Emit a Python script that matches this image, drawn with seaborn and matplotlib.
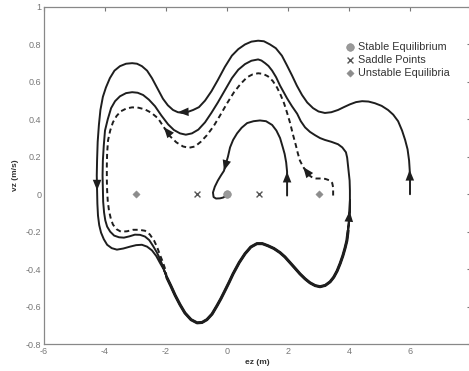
import numpy as np
import pandas as pd
import matplotlib
matplotlib.use("Agg")
import matplotlib.pyplot as plt
import seaborn as sns

# equilibria on the ez axis
stable_x = [0.0]
saddle_x = [-1.0, 1.05]
unstable_x = [-3.0, 3.03]

# trajectory starting at (6, 0): first (outer) lap
outer_x = [6.0, 6.0, 5.99, 5.97, 5.92, 5.84, 5.74, 5.61, 5.45, 5.28, 5.07, 4.85, 4.64, 4.43, 4.23, 4.03,
           3.83, 3.64, 3.42, 3.21, 3.0, 2.82, 2.63, 2.46, 2.29, 2.13, 1.96, 1.80, 1.60, 1.41, 1.21, 1.02,
           0.80, 0.59, 0.37, 0.16, -0.07, -0.30, -0.51, -0.72, -0.92, -1.11, -1.28, -1.44, -1.61, -1.77,
           -1.94, -2.10, -2.28, -2.46, -2.62, -2.79, -2.95, -3.11, -3.31, -3.51, -3.69, -3.84, -3.97,
           -4.07, -4.15, -4.20, -4.24, -4.26, -4.27, -4.26, -4.25, -4.23, -4.19, -4.13, -4.04, -3.93,
           -3.78, -3.61, -3.40, -3.18, -2.98, -2.79, -2.62, -2.46, -2.32, -2.20, -2.08]
outer_y = [0.0, 0.073, 0.13, 0.18, 0.24, 0.29, 0.34, 0.39, 0.425, 0.45, 0.472, 0.486, 0.495, 0.497, 0.492, 0.48,
           0.465, 0.45, 0.438, 0.434, 0.442, 0.46, 0.49, 0.53, 0.58, 0.635, 0.69, 0.74, 0.78, 0.80, 0.817, 0.82,
           0.815, 0.80, 0.775, 0.74, 0.68, 0.61, 0.55, 0.50, 0.465, 0.45, 0.44, 0.434, 0.438, 0.45,
           0.475, 0.51, 0.565, 0.62, 0.66, 0.684, 0.697, 0.70, 0.697, 0.684, 0.66, 0.62, 0.57,
           0.52, 0.45, 0.37, 0.28, 0.18, 0.10, 0.02, -0.05, -0.114, -0.165, -0.205, -0.24, -0.27,
           -0.288, -0.296, -0.29, -0.28, -0.272, -0.27, -0.28, -0.30, -0.33, -0.366, -0.40]

# lower arc shared by the spiralling trajectories, ending on the way up at ez = 4
bottom_x = [-1.97, -1.84, -1.70, -1.54, -1.38, -1.18, -0.98, -0.82, -0.66, -0.49, -0.33, -0.20, -0.07,
            0.07, 0.20, 0.40, 0.59, 0.78, 0.98, 1.16, 1.34, 1.54, 1.74, 1.90, 2.07, 2.23, 2.39, 2.56,
            2.72, 2.89, 3.05, 3.22, 3.38, 3.50, 3.61, 3.71, 3.80, 3.87, 3.93, 3.97, 4.00, 4.02, 4.03]
bottom_y = [-0.446, -0.49, -0.54, -0.59, -0.634, -0.67, -0.687, -0.685, -0.67, -0.64, -0.596, -0.558, -0.516,
            -0.47, -0.425, -0.365, -0.318, -0.282, -0.264, -0.264, -0.275, -0.29, -0.312, -0.335, -0.366, -0.395,
            -0.425, -0.452, -0.473, -0.488, -0.494, -0.487, -0.468, -0.443, -0.41, -0.37, -0.328, -0.288,
            -0.248, -0.195, -0.14, -0.09, -0.034]

# same trajectory, second lap (middle loop)
middle_x = [4.03, 4.02, 3.99, 3.97, 3.94, 3.90, 3.78, 3.64, 3.42, 3.21, 3.05, 2.89, 2.72, 2.56, 2.42, 2.30,
            2.13, 1.97, 1.85, 1.74, 1.61, 1.48, 1.36, 1.25, 1.13, 1.02, 0.80, 0.59, 0.37, 0.16, -0.07,
            -0.30, -0.51, -0.72, -0.94, -1.15, -1.35, -1.54, -1.74, -1.93, -2.15, -2.36, -2.56, -2.75,
            -2.93, -3.11, -3.31, -3.51, -3.67, -3.80, -3.91, -4.0, -4.04, -4.07, -4.08, -4.07, -4.06,
            -4.03, -3.99, -3.93, -3.83, -3.70, -3.54, -3.38, -3.20, -3.02, -2.85, -2.69, -2.55, -2.43,
            -2.31, -2.20, -2.08]
middle_y = [0.02, 0.073, 0.12, 0.153, 0.195, 0.224, 0.25, 0.267, 0.28, 0.29, 0.30, 0.315, 0.333, 0.357, 0.39, 0.43,
            0.47, 0.512, 0.547, 0.58, 0.625, 0.66, 0.685, 0.70, 0.714, 0.72, 0.713, 0.695, 0.665, 0.62, 0.555,
            0.49, 0.435, 0.384, 0.345, 0.325, 0.318, 0.325, 0.343, 0.373, 0.42, 0.47, 0.505, 0.53,
            0.542, 0.545, 0.54, 0.523, 0.497, 0.46, 0.40, 0.34, 0.26, 0.18, 0.10, 0.02, -0.04,
            -0.098, -0.14, -0.173, -0.20, -0.221, -0.23, -0.232, -0.225, -0.216, -0.217, -0.226, -0.245, -0.275,
            -0.308, -0.344, -0.395]

# trajectory starting near (3.5, 0), dashed
dashed_x = [3.48, 3.48, 3.45, 3.38, 3.22, 3.05, 2.92, 2.82, 2.72, 2.62, 2.50, 2.39, 2.32, 2.26, 2.16, 2.07,
            1.97, 1.87, 1.76, 1.64, 1.50, 1.34, 1.18, 1.02, 0.84, 0.66, 0.45, 0.23, 0.0, -0.23, -0.44,
            -0.66, -0.86, -1.05, -1.25, -1.44, -1.66, -1.87, -2.07, -2.26, -2.48, -2.69, -2.90, -3.11,
            -3.30, -3.48, -3.62, -3.74, -3.83, -3.90, -3.93, -3.94, -3.94, -3.93, -3.91, -3.87, -3.81,
            -3.74, -3.62, -3.48, -3.28, -3.08, -2.88, -2.69, -2.53, -2.39, -2.29, -2.20, -2.11, -2.03]
dashed_y = [-0.007, 0.036, 0.06, 0.073, 0.082, 0.084, 0.084, 0.087, 0.098, 0.116, 0.145, 0.18, 0.22, 0.26, 0.32, 0.38,
            0.435, 0.486, 0.53, 0.57, 0.605, 0.63, 0.643, 0.646, 0.64, 0.625, 0.59, 0.545, 0.485, 0.42, 0.363,
            0.315, 0.28, 0.255, 0.248, 0.255, 0.277, 0.31, 0.358, 0.405, 0.435, 0.453, 0.462, 0.464,
            0.458, 0.443, 0.418, 0.384, 0.34, 0.288, 0.22, 0.154, 0.08, 0.02, -0.035, -0.087, -0.13,
            -0.162, -0.187, -0.20, -0.198, -0.19, -0.19, -0.195, -0.215, -0.248, -0.283, -0.323, -0.36, -0.398]

# trajectory starting at (2, 0) and ending in the stable point
inner_x = [1.97, 1.97, 1.97, 1.94, 1.89, 1.83, 1.74, 1.62, 1.48, 1.28, 1.08, 0.87, 0.66, 0.48, 0.33, 0.20,
           0.10, 0.03, -0.04, -0.10, -0.20, -0.30, -0.40, -0.46, -0.44, -0.36, -0.23, -0.13, 0.0]
inner_y = [-0.007, 0.06, 0.12, 0.17, 0.215, 0.25, 0.30, 0.34, 0.37, 0.39, 0.394, 0.39, 0.38, 0.355, 0.325, 0.29,
           0.25, 0.20, 0.16, 0.125, 0.10, 0.073, 0.04, 0.009, -0.015, -0.023, -0.022, -0.018, -0.007]

ink = "#1e1e1e"

sns.set_style("white")
plt.rcParams["font.family"] = ["Liberation Sans", "DejaVu Sans"]
plt.rcParams["axes.unicode_minus"] = False

fig = plt.figure(figsize=(4.69, 3.71), dpi=100)
ax = fig.add_axes([44 / 469, 27 / 371, 427 / 469, 337 / 371])


def draw(xs, ys, lw=1.4, dashed=False):
    df = pd.DataFrame({"x": xs, "y": ys})
    kw = dict(dashes=(2.6, 1.8)) if dashed else {}
    sns.lineplot(data=df, x="x", y="y", sort=False, estimator=None, ax=ax,
                 color=ink, lw=lw, solid_joinstyle="round", **kw)


draw(outer_x + bottom_x + middle_x + bottom_x, outer_y + bottom_y + middle_y + bottom_y)
draw(bottom_x[:-3], bottom_y[:-3], lw=2.2)
draw(dashed_x + bottom_x[:3], dashed_y + bottom_y[:3], dashed=True)
draw(inner_x, inner_y)


def arrow(xs, ys, i, j):
    ax.annotate("", xy=(xs[j], ys[j]), xytext=(xs[i], ys[i]),
                arrowprops=dict(arrowstyle="-|>,head_length=0.55,head_width=0.22", color=ink,
                                lw=0, mutation_scale=14, shrinkA=0, shrinkB=0))


arrow(outer_x, outer_y, 0, 2)
arrow(outer_x, outer_y, 42, 44)
arrow(outer_x, outer_y, 63, 65)
arrow(bottom_x, bottom_y, 39, 41)
arrow(dashed_x, dashed_y, 8, 10)
arrow(dashed_x, dashed_y, 36, 38)
arrow(inner_x, inner_y, 0, 2)
arrow(inner_x, inner_y, 17, 19)

sns.scatterplot(x=stable_x, y=[0] * len(stable_x), ax=ax, marker="o", s=30, color="#9a9a9a",
                edgecolor="#8a8a8a", label="Stable Equilibrium", zorder=5)
sns.scatterplot(x=saddle_x, y=[0] * len(saddle_x), ax=ax, marker="x", s=18, color="#555555",
                linewidth=1.0, label="Saddle Points", zorder=5)
sns.scatterplot(x=unstable_x, y=[0] * len(unstable_x), ax=ax, marker="D", s=14, color="#8c8c8c",
                edgecolor="#8c8c8c", label="Unstable Equilibria", zorder=5)

ax.set_xlim(-6, 8)
ax.set_ylim(-0.8, 1)
ax.set_xticks([-6, -4, -2, 0, 2, 4, 6, 8])
ax.set_yticks([-0.8, -0.6, -0.4, -0.2, 0, 0.2, 0.4, 0.6, 0.8, 1])
ax.set_yticklabels(["-0.8", "-0.6", "-0.4", "-0.2", "0", "0.2", "0.4", "0.6", "0.8", "1"])
ax.tick_params(direction="in", top=True, right=True, length=3, width=0.8,
               colors="#777777", labelsize=6.5, pad=2)
for s in ax.spines.values():
    s.set_color("#888888")
    s.set_linewidth(0.9)
ax.set_xlabel("ez (m)", fontsize=6, fontweight="bold", color="#333333", labelpad=2)
ax.set_ylabel("vz (m/s)", fontsize=6, fontweight="bold", color="#333333", labelpad=5)

leg = ax.legend(loc="upper left", bbox_to_anchor=(0.703, 0.897), frameon=False, fontsize=7.8,
                handletextpad=0.25, labelspacing=0.3, handlelength=1.0, borderpad=0,
                borderaxespad=0)
for t in leg.get_texts():
    t.set_color("#333333")

fig.savefig("out.png", dpi=100)
